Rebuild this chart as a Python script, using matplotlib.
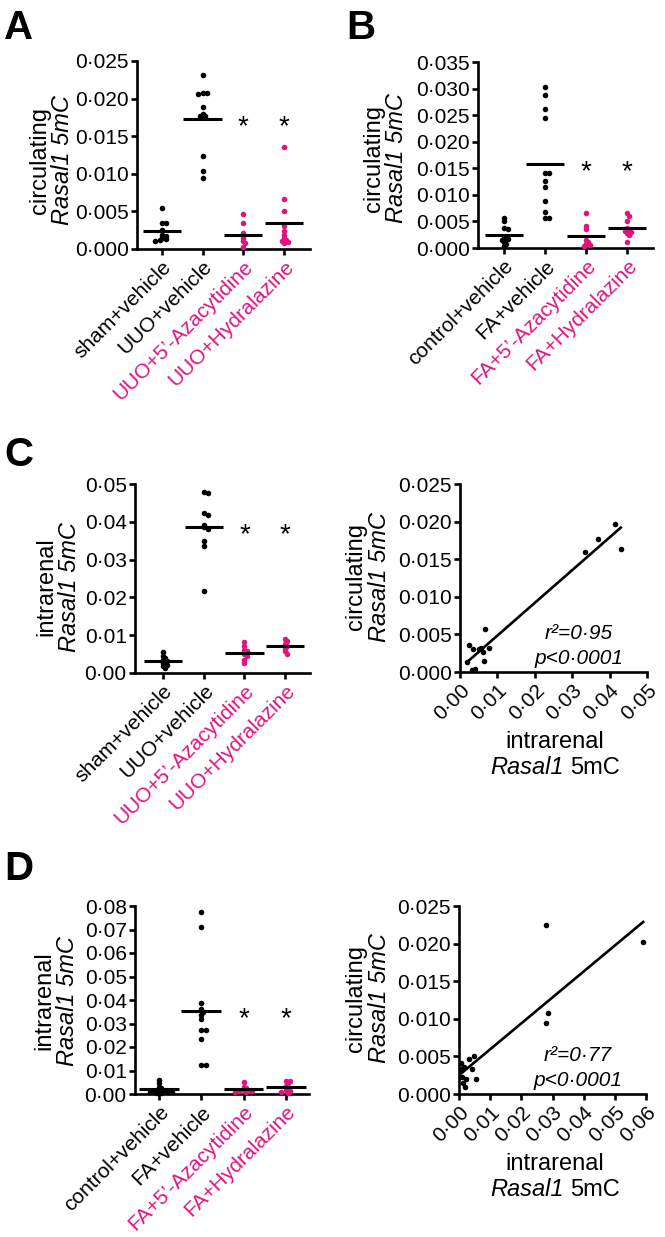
import numpy as np
import matplotlib
matplotlib.use('Agg')
import matplotlib.pyplot as plt
from matplotlib.ticker import FuncFormatter

plt.rcParams['font.family'] = ['Liberation Sans', 'DejaVu Sans']

BLACK = '#000000'
PINK = '#E0147E'

# ---------------- data ----------------
cats_uuo = ['sham+vehicle', 'UUO+vehicle', 'UUO+5’-Azacytidine', 'UUO+Hydralazine']
cats_fa = ['control+vehicle', 'FA+vehicle', 'FA+5’-Azacytidine', 'FA+Hydralazine']
group_colors = [BLACK, BLACK, PINK, PINK]

# Panel A: circulating Rasal1 5mC, UUO model
A_sham = [0.0054, 0.0034, 0.0034, 0.0025, 0.0019, 0.0017, 0.0015, 0.0013, 0.0012, 0.0011]
A_uuo = [0.0232, 0.0207, 0.0207, 0.0206, 0.0189, 0.0180, 0.0177, 0.0177, 0.0124, 0.0104, 0.0094]
A_aza = [0.0046, 0.0034, 0.0021, 0.0014, 0.0010, 0.00075, 0.0002]
A_hyd = [0.0135, 0.0067, 0.0051, 0.0030, 0.0024, 0.0019, 0.0015, 0.0012, 0.0011, 0.0009, 0.0008]

# Panel B: circulating Rasal1 5mC, FA model
B_ctrl = [0.0056, 0.0050, 0.0038, 0.0036, 0.0019, 0.0017, 0.0015, 0.0011, 0.0008, 0.0004]
B_fa = [0.0303, 0.0287, 0.0262, 0.0244, 0.0141, 0.0141, 0.0127, 0.0115, 0.0089, 0.0068, 0.0057, 0.0057]
B_aza = [0.0065, 0.0041, 0.0036, 0.0015, 0.0012, 0.0008, 0.0006, 0.0004]
B_hyd = [0.0065, 0.0061, 0.0050, 0.0037, 0.0033, 0.0032, 0.0030, 0.0028, 0.0025, 0.0011]

# Panel C (left): intrarenal Rasal1 5mC, UUO model
C_sham = [0.0055, 0.0046, 0.0040, 0.0035, 0.0031, 0.0026, 0.0022, 0.0018, 0.0013]
C_uuo = [0.0478, 0.0476, 0.0423, 0.0419, 0.0392, 0.0385, 0.0382, 0.0350, 0.0335, 0.0218]
C_aza = [0.0082, 0.0071, 0.0062, 0.0057, 0.0050, 0.0044, 0.0035, 0.0026]
C_hyd = [0.0090, 0.0084, 0.0077, 0.0071, 0.0064, 0.0057, 0.0051]

# Panel C (right): correlation intrarenal vs circulating (UUO)
C_corr_x = [0.0414, 0.0368, 0.0334, 0.0430, 0.0068, 0.0024, 0.0035, 0.0055,
            0.0062, 0.0078, 0.0020, 0.0064, 0.0039, 0.0033, 0.0051]
C_corr_y = [0.0197, 0.0177, 0.0160, 0.0164, 0.0057, 0.0036, 0.0030, 0.0032,
            0.0027, 0.0032, 0.0013, 0.0015, 0.0004, 0.0002, 0.0031]
C_stats = ['r²=0·95', 'p<0·0001']

# Panel D (left): intrarenal Rasal1 5mC, FA model
D_ctrl = [0.0060, 0.0045, 0.0031, 0.0024, 0.0017, 0.0013, 0.0012, 0.0010, 0.0009, 0.0007, 0.0006, 0.0005]
D_fa = [0.0773, 0.0712, 0.0389, 0.0360, 0.0349, 0.0336, 0.0318, 0.0272, 0.0272, 0.0235, 0.0123, 0.0123]
D_aza = [0.0052, 0.0031, 0.0024, 0.0017, 0.0014, 0.0012, 0.0011, 0.0009, 0.0007]
D_hyd = [0.0055, 0.0055, 0.0045, 0.0034, 0.0024, 0.0015, 0.0014, 0.0010, 0.0006]

# Panel D (right): correlation intrarenal vs circulating (FA)
D_corr_x = [0.0280, 0.0591, 0.0286, 0.0278, 0.0047, 0.0032, 0.0007, 0.0016,
            0.0043, 0.0055, 0.0021, 0.0012, 0.0020, 0.0010, 0.0005, 0.0013]
D_corr_y = [0.0225, 0.0202, 0.0108, 0.0095, 0.0051, 0.0047, 0.0041, 0.0036,
            0.0033, 0.0020, 0.0020, 0.0015, 0.0009, 0.0023, 0.0032, 0.0034]
D_stats = ['r²=0·77', 'p<0·0001']

# ---------------- layout helpers ----------------
W, H = 665, 1237
fig = plt.figure(figsize=(W / 100, H / 100), dpi=100)
fig.patch.set_facecolor('white')
renderer = fig.canvas.get_renderer()


def add_ax(l, t, r, b):
    return fig.add_axes([l / W, 1 - b / H, (r - l) / W, (b - t) / H])


def ftext(x, y, s, **kw):
    return fig.text(x / W, 1 - y / H, s, **kw)


def fmt(dec):
    return FuncFormatter(lambda v, p: f"{v:.{dec}f}".replace('.', '·'))


def style(ax):
    for s in ['top', 'right']:
        ax.spines[s].set_visible(False)
    for s in ['left', 'bottom']:
        ax.spines[s].set_linewidth(1.9)
    ax.tick_params(width=1.9, length=4.5, pad=1.5, labelsize=15, direction='out')


def swarm_offsets(vals, ylim, h_px, cat_px, diam=4.8):
    py = (np.asarray(vals) - ylim[0]) / (ylim[1] - ylim[0]) * h_px
    order = np.argsort(-py)
    xs = np.zeros(len(vals))
    placed = []
    step = diam * 0.45
    for i in order:
        k = 0
        chosen = None
        while chosen is None:
            cands = [0.0] if k == 0 else [k * step, -k * step]
            for c in cands:
                if all((c - px) ** 2 + (py[i] - pyy) ** 2 >= (diam * 0.55) ** 2 for px, pyy in placed):
                    chosen = c
                    break
            k += 1
        xs[i] = chosen
        placed.append((chosen, py[i]))
    return xs / cat_px


def group_panel(box, groups, cats, ylim, ystep, dec, xlim):
    l, t, r, b = box
    ax = add_ax(l, t, r, b)
    style(ax)
    h_px = b - t
    cat_px = (r - l) / (xlim[1] - xlim[0])
    means = []
    for i, (vals, c) in enumerate(zip(groups, group_colors)):
        off = swarm_offsets(vals, ylim, h_px, cat_px)
        ax.scatter(i + off, vals, s=16, color=c, zorder=3, linewidths=0, clip_on=False)
        m = float(np.mean(vals))
        means.append(m)
        ax.plot([i - 0.47, i + 0.47], [m, m], color='black', lw=2.2, zorder=4,
                solid_capstyle='butt')
    for i in [2, 3]:
        ax.annotate('*', xy=(i, means[1]), xytext=(0, -11), textcoords='offset points',
                    ha='center', va='baseline', fontsize=20, zorder=5)
    ax.set_xlim(xlim)
    ax.set_ylim(ylim)
    ax.set_yticks(np.arange(0, ylim[1] + ystep / 2, ystep))
    ax.yaxis.set_major_formatter(fmt(dec))
    ax.set_xticks(range(len(cats)))
    ax.set_xticklabels(cats, rotation=45, ha='right', rotation_mode='anchor')
    for lab, c in zip(ax.get_xticklabels(), group_colors):
        lab.set_color(c)
    return ax


def corr_panel(box, x, y, xlim, ylim, stats):
    l, t, r, b = box
    ax = add_ax(l, t, r, b)
    style(ax)
    x = np.asarray(x)
    y = np.asarray(y)
    ax.scatter(x, y, s=16, color='black', zorder=3, linewidths=0, clip_on=False)
    k, c0 = np.polyfit(x, y, 1)
    xx = np.array([x.min(), x.max()])
    ax.plot(xx, k * xx + c0, color='black', lw=1.9, zorder=2)
    ax.set_xlim(xlim)
    ax.set_ylim(ylim)
    ax.set_yticks(np.arange(0, ylim[1] + 0.0025, 0.005))
    ax.set_xticks(np.arange(0, xlim[1] + 0.005, 0.01))
    ax.yaxis.set_major_formatter(fmt(3))
    ax.xaxis.set_major_formatter(fmt(2))
    for lab in ax.get_xticklabels():
        lab.set_rotation(45)
        lab.set_ha('right')
        lab.set_rotation_mode('anchor')
    ax.text(0.635, 0.207, stats[0], transform=ax.transAxes, ha='center', va='center',
            fontsize=15, fontstyle='italic')
    ax.text(0.635, 0.074, stats[1], transform=ax.transAxes, ha='center', va='center',
            fontsize=15, fontstyle='italic')
    return ax


# ---------------- panels ----------------
group_panel((137, 61, 310, 249), [A_sham, A_uuo, A_aza, A_hyd], cats_uuo,
            (0, 0.025), 0.005, 3, (-0.61, 3.64))
group_panel((478, 62, 653, 248), [B_ctrl, B_fa, B_aza, B_hyd], cats_fa,
            (0, 0.035), 0.005, 3, (-0.63, 3.63))
group_panel((135, 484, 310, 673), [C_sham, C_uuo, C_aza, C_hyd], cats_uuo,
            (0, 0.05), 0.01, 2, (-0.69, 3.61))
corr_panel((460, 484, 647, 672), C_corr_x, C_corr_y, (0, 0.05), (0, 0.025), C_stats)
group_panel((135, 906, 309, 1094), [D_ctrl, D_fa, D_aza, D_hyd], cats_fa,
            (0, 0.08), 0.01, 2, (-0.57, 3.55))
corr_panel((459, 906, 646, 1094), D_corr_x, D_corr_y, (0, 0.06), (0, 0.025), D_stats)

# ---------------- labels ----------------
LFS = 17


def ylabel2(cx, cy, first):
    ftext(cx - 11.5, cy, first, rotation=90, fontsize=LFS, ha='center', va='center')
    ftext(cx + 11.5, cy, 'Rasal1 5mC', rotation=90, fontsize=LFS, ha='center',
          va='center', fontstyle='italic')


def xlabel2(cx, cy):
    ftext(cx, cy - 12.5, 'intrarenal', fontsize=LFS, ha='center', va='center')
    t1 = ftext(0, cy + 12.5, 'Rasal1', fontsize=LFS, ha='left', va='center', fontstyle='italic')
    t2 = ftext(0, cy + 12.5, '5mC', fontsize=LFS, ha='left', va='center')
    w1 = t1.get_window_extent(renderer).width
    w2 = t2.get_window_extent(renderer).width
    gap = 0.278 * LFS * 100 / 72
    x0 = cx - (w1 + gap + w2) / 2
    t1.set_x(x0 / W)
    t2.set_x((x0 + w1 + gap) / W)


ylabel2(51, 160, 'circulating')
ylabel2(385, 158, 'circulating')
ylabel2(58, 587, 'intrarenal')
ylabel2(368, 577, 'circulating')
ylabel2(56, 1001, 'intrarenal')
ylabel2(368, 998, 'circulating')
xlabel2(555, 755)
xlabel2(555, 1177)

letter_kw = dict(fontsize=29, fontweight='bold', ha='left', va='baseline')
ftext(4, 39, 'A', **letter_kw)
ftext(346, 39, 'B', **letter_kw)
ftext(4, 466, 'C', **letter_kw)
ftext(4, 880, 'D', **letter_kw)

fig.savefig('out.png', dpi=100, facecolor='white')
